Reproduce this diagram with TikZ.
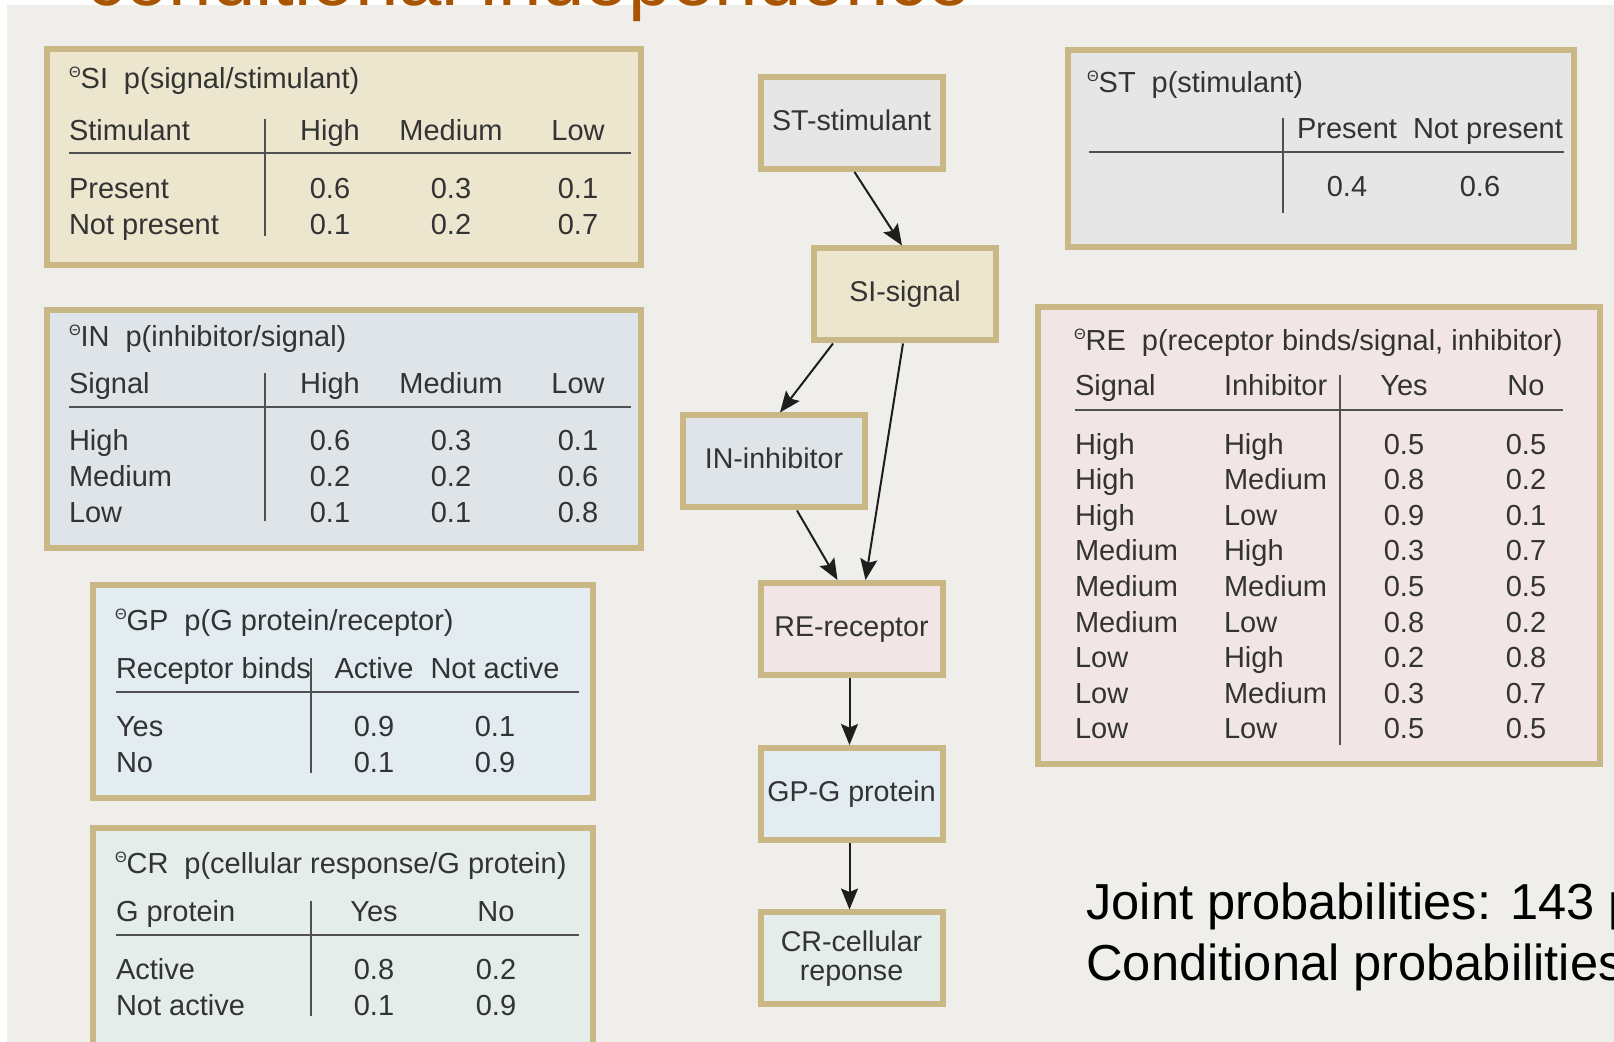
\documentclass[tikz,border=0pt]{standalone}
\usepackage{fontspec}
\setmainfont{Liberation Sans}
\usetikzlibrary{arrows.meta,calc}

\definecolor{panel}{HTML}{EFEEEB}
\definecolor{frame}{HTML}{C9B886}
\definecolor{ink}{HTML}{333333}
\definecolor{rulec}{HTML}{505050}
\definecolor{edgec}{HTML}{1E1E1E}
\definecolor{titlec}{HTML}{A85400}
\definecolor{fillSI}{HTML}{ECE6CE}
\definecolor{fillIN}{HTML}{DEE4E8}
\definecolor{fillGP}{HTML}{E2ECF1}
\definecolor{fillCR}{HTML}{E5EDEA}
\definecolor{fillST}{HTML}{E6E6E6}
\definecolor{fillRE}{HTML}{F1E5E5}

% small raised theta in front of each table name
\newcommand\thetamark{\raisebox{0.36em}{\fontsize{7.5pt}{7.5pt}\selectfont Θ}}
\newcommand\cpttitle[2]{\thetamark#1\hspace{0.55em}#2}

\begin{document}
\begin{tikzpicture}[x=0.5pt,y=-0.5pt,
  txt/.style={inner sep=0pt, outer sep=0pt, text=ink, yshift=-1.1pt,
    font=\fontsize{14.5pt}{17pt}\selectfont},
  lt/.style={txt, anchor=base west},
  ct/.style={txt, anchor=base},
  hline/.style={draw=rulec, line width=1pt},
  vline/.style={draw=rulec, line width=0.8pt},
  cptbox/.style={draw=frame, line width=3pt},
  netbase/.style={draw=frame, line width=3pt, minimum width=91pt, minimum height=46pt,
    inner sep=0pt, text=ink, font=\fontsize{14.3pt}{14.5pt}\selectfont, align=center},
  netnode/.style={netbase, text height=10.4pt, text depth=3pt},
  edge/.style={draw=edgec, line width=1pt, -{Stealth[length=10.5pt,width=8.5pt,inset=1.8pt]}}
]
\useasboundingbox (0,0) rectangle (1614,1042);
\clip (0,0) rectangle (1614,1042);

% slide background
\fill[panel] (7,5) rectangle (1614,1042);
\node[anchor=base west, inner sep=0pt, text=titlec, font=\fontsize{39pt}{39pt}\selectfont]
  (title) at (86,6) {conditional independence};

% ---------- table SI ----------
\filldraw[cptbox, fill=fillSI] (47,49) rectangle (641,265);
\node[lt] (si-t) at (69,86) {\cpttitle{SI}{p(signal/stimulant)}};
\node[lt] (si-h0) at (69,138) {Stimulant};
\node[ct] (si-h1) at (330,138) {High};
\node[ct] (si-h2) at (451,138) {Medium};
\node[ct] (si-h3) at (578,138) {Low};
\draw[hline] (69,153) -- (631,153);
\draw[vline] (265,119) -- (265,236);
\foreach \lab/\a/\b/\c [count=\i, evaluate=\i as \yy using 196+(\i-1)*36] in
  {Present/0.6/0.3/0.1, Not present/0.1/0.2/0.7} {
  \node[lt] (si-r\i) at (69,\yy) {\lab};
  \node[ct] (si-a\i) at (330,\yy) {\a};
  \node[ct] (si-b\i) at (451,\yy) {\b};
  \node[ct] (si-c\i) at (578,\yy) {\c};
}

% ---------- table IN ----------
\filldraw[cptbox, fill=fillIN] (47,310) rectangle (641,548);
\node[lt] (in-t) at (69,344) {\cpttitle{IN}{p(inhibitor/signal)}};
\node[lt] (in-h0) at (69,391) {Signal};
\node[ct] (in-h1) at (330,391) {High};
\node[ct] (in-h2) at (451,391) {Medium};
\node[ct] (in-h3) at (578,391) {Low};
\draw[hline] (69,407) -- (631,407);
\draw[vline] (265,373) -- (265,521);
\foreach \lab/\a/\b/\c [count=\i, evaluate=\i as \yy using 448+(\i-1)*36] in
  {High/0.6/0.3/0.1, Medium/0.2/0.2/0.6, Low/0.1/0.1/0.8} {
  \node[lt] (in-r\i) at (69,\yy) {\lab};
  \node[ct] (in-a\i) at (330,\yy) {\a};
  \node[ct] (in-b\i) at (451,\yy) {\b};
  \node[ct] (in-c\i) at (578,\yy) {\c};
}

% ---------- table GP ----------
\filldraw[cptbox, fill=fillGP] (93,585) rectangle (593,798);
\node[lt] (gp-t) at (115,628) {\cpttitle{GP}{p(G protein/receptor)}};
\node[lt] (gp-h0) at (116,676) {Receptor binds};
\node[ct] (gp-h1) at (374,676) {Active};
\node[ct] (gp-h2) at (495,676) {Not active};
\draw[hline] (116,692) -- (579,692);
\draw[vline] (311,658) -- (311,773);
\foreach \lab/\a/\b [count=\i, evaluate=\i as \yy using 734+(\i-1)*36] in
  {Yes/0.9/0.1, No/0.1/0.9} {
  \node[lt] (gp-r\i) at (116,\yy) {\lab};
  \node[ct] (gp-a\i) at (374,\yy) {\a};
  \node[ct] (gp-b\i) at (495,\yy) {\b};
}

% ---------- table CR ----------
\filldraw[cptbox, fill=fillCR] (93,828) rectangle (593,1070);
\node[lt] (cr-t) at (115,871) {\cpttitle{CR}{p(cellular response/G protein)}};
\node[lt] (cr-h0) at (116,919) {G protein};
\node[ct] (cr-h1) at (374,919) {Yes};
\node[ct] (cr-h2) at (496,919) {No};
\draw[hline] (116,935) -- (579,935);
\draw[vline] (311,901) -- (311,1016);
\foreach \lab/\a/\b [count=\i, evaluate=\i as \yy using 977+(\i-1)*36] in
  {Active/0.8/0.2, Not active/0.1/0.9} {
  \node[lt] (cr-r\i) at (116,\yy) {\lab};
  \node[ct] (cr-a\i) at (374,\yy) {\a};
  \node[ct] (cr-b\i) at (496,\yy) {\b};
}

% ---------- table ST ----------
\filldraw[cptbox, fill=fillST] (1068,50) rectangle (1574,247);
\node[lt] (st-t) at (1087,90) {\cpttitle{ST}{p(stimulant)}};
\node[ct] (st-h1) at (1347,136) {Present};
\node[ct] (st-h2) at (1488,136) {Not present};
\draw[hline] (1089,152) -- (1564,152);
\draw[vline] (1283,118) -- (1283,213);
\node[ct] (st-a1) at (1347,194) {0.4};
\node[ct] (st-b1) at (1480,194) {0.6};

% ---------- table RE ----------
\filldraw[cptbox, fill=fillRE] (1038,307) rectangle (1600,764);
\node[lt] (re-t) at (1074,348) {\cpttitle{RE}{p(receptor binds/signal, inhibitor)}};
\node[lt] (re-h0) at (1075,393) {Signal};
\node[lt] (re-h1) at (1224,393) {Inhibitor};
\node[ct] (re-h2) at (1404,393) {Yes};
\node[ct] (re-h3) at (1526,393) {No};
\draw[hline] (1075,410) -- (1563,410);
\draw[vline] (1340,375) -- (1340,745);
\foreach \sg/\ih/\a/\b [count=\i, evaluate=\i as \yy using 452+(\i-1)*35.6] in
  {High/High/0.5/0.5, High/Medium/0.8/0.2, High/Low/0.9/0.1,
   Medium/High/0.3/0.7, Medium/Medium/0.5/0.5, Medium/Low/0.8/0.2,
   Low/High/0.2/0.8, Low/Medium/0.3/0.7, Low/Low/0.5/0.5} {
  \node[lt] (re-s\i) at (1075,\yy) {\sg};
  \node[lt] (re-i\i) at (1224,\yy) {\ih};
  \node[ct] (re-a\i) at (1404,\yy) {\a};
  \node[ct] (re-b\i) at (1526,\yy) {\b};
}

% ---------- network ----------
\node[netnode, fill=fillST] (ST) at (851.5,123) {ST-stimulant};
\node[netnode, fill=fillSI] (SI) at (905,294.5) {SI-signal};
\node[netnode, fill=fillIN] (IN) at (774,461.5) {IN-inhibitor};
\node[netnode, fill=fillRE] (RE) at (851.5,629) {RE-receptor};
\node[netnode, fill=fillGP] (GP) at (851.5,794) {GP-G protein};
\node[netbase, fill=fillCR] (CR) at (851.5,958.5) {CR-cellular\\reponse};

\draw[edge] ($(ST.south)+(3,0)$) -- ($(SI.north)+(-3,0)$);
\draw[edge] ($(SI.south)+(-72,0)$) -- ($(IN.north)+(6,0)$);
\draw[edge] ($(SI.south)+(-2,0)$) -- ($(RE.north)+(14,0)$);
\draw[edge] ($(IN.south)+(23,0)$) -- ($(RE.north)+(-14,0)$);
\draw[edge] ($(RE.south)+(-2,0)$) -- ($(GP.north)+(-2,0)$);
\draw[edge] ($(GP.south)+(-2,0)$) -- ($(CR.north)+(-2,0)$);

% ---------- summary text ----------
\node[anchor=base west, inner sep=0pt, text=black, font=\fontsize{25.3pt}{31pt}\selectfont]
  (joint) at (1086,920) {Joint probabilities: 143 p};
\node[anchor=base west, inner sep=0pt, text=black, font=\fontsize{25.3pt}{31pt}\selectfont]
  (cond) at (1086,981) {Conditional probabilities};
\end{tikzpicture}
\end{document}
